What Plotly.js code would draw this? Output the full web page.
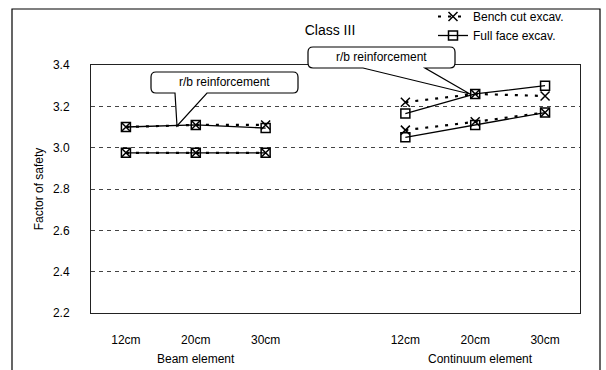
<!DOCTYPE html>
<html>
<head>
<meta charset="utf-8">
<script src="https://cdn.plot.ly/plotly-3.0.1.min.js"></script>
<style>html,body{margin:0;padding:0;background:#fff;}#chart{width:606px;height:370px;}</style>
</head>
<body>
<div id="chart"></div>
<script>
// ---- data ----
const thickness = ['12cm', '20cm', '30cm'];
const groups = ['Beam element', 'Continuum element'];
const seriesNames = ['Bench cut excav.', 'Full face excav.'];

// Beam element
const benchBeamRB   = [3.10, 3.11, 3.11];
const benchBeamNone = [2.975, 2.975, 2.975];
const fullBeamRB    = [3.10, 3.11, 3.095];
const fullBeamNone  = [2.975, 2.975, 2.975];
// Continuum element
const benchContRB   = [3.22, 3.26, 3.25];
const benchContNone = [3.085, 3.125, 3.17];
const fullContRB    = [3.165, 3.26, 3.30];
const fullContNone  = [3.05, 3.11, 3.17];

const calloutText = 'r/b reinforcement';

// ---- layout helpers ----
const W = 606, H = 370;
const M = {l: 91, r: 26, t: 65, b: 57, autoexpand: false};
const PW = W - M.l - M.r, PH = H - M.t - M.b;
const px = v => (v - M.l) / PW;
const py = v => (H - M.b - v) / PH;

// category positions: group g occupies slots g*4+1 .. g*4+3 (one empty slot between)
const pos = (g, i) => g * (thickness.length + 1) + i + 1;
const gx = g => thickness.map((_, i) => pos(g, i));

const benchStyle = {
  mode: 'lines+markers',
  line: {color: '#000', width: 2.2, dash: '3px,7px'},
  marker: {symbol: 'x-thin', size: 9, color: '#000', line: {color: '#000', width: 1.5}}
};
const fullStyle = {
  mode: 'lines+markers',
  line: {color: '#000', width: 1.3},
  marker: {symbol: 'square-open', size: 9, color: '#000', line: {color: '#000', width: 1.5}}
};

function tr(style, name, g, y, show) {
  return Object.assign({}, style, {
    type: 'scatter', x: gx(g), y: y, name: name,
    legendgroup: name, showlegend: show, hoverinfo: 'x+y'
  });
}

const data = [
  tr(benchStyle, seriesNames[0], 0, benchBeamRB, true),
  tr(benchStyle, seriesNames[0], 0, benchBeamNone, false),
  tr(benchStyle, seriesNames[0], 1, benchContRB, false),
  tr(benchStyle, seriesNames[0], 1, benchContNone, false),
  tr(fullStyle, seriesNames[1], 0, fullBeamRB, true),
  tr(fullStyle, seriesNames[1], 0, fullBeamNone, false),
  tr(fullStyle, seriesNames[1], 1, fullContRB, false),
  tr(fullStyle, seriesNames[1], 1, fullContNone, false)
];

function callout(x0, y0, x1, y1, r, wedge) {
  const P = (a, b) => px(a).toFixed(5) + ',' + py(b).toFixed(5);
  let d = 'M' + P(x0 + r, y0) + ' L' + P(x1 - r, y0) + ' Q' + P(x1, y0) + ' ' + P(x1, y0 + r) +
    ' L' + P(x1, y1 - r) + ' Q' + P(x1, y1) + ' ' + P(x1 - r, y1) +
    ' L' + P(wedge[0], y1) + ' L' + P(wedge[1], wedge[2]) + ' L' + P(wedge[3], y1) +
    ' L' + P(x0 + r, y1) + ' Q' + P(x0, y1) + ' ' + P(x0, y1 - r) +
    ' L' + P(x0, y0 + r) + ' Q' + P(x0, y0) + ' ' + P(x0 + r, y0) + ' Z';
  return {type: 'path', xref: 'paper', yref: 'paper', path: d,
          line: {color: '#000', width: 1.2}, fillcolor: '#fff', layer: 'above'};
}

const font = {family: '"Liberation Sans", Arial, sans-serif', color: '#000'};
const f = s => Object.assign({}, font, {size: s});

const layout = {
  width: W, height: H,
  margin: M,
  paper_bgcolor: '#fff', plot_bgcolor: '#fff',
  font: f(12),
  title: {text: 'Class III', x: px(330), xref: 'paper', xanchor: 'center',
          y: 1 - 30 / H, yref: 'container', yanchor: 'middle', font: f(14)},
  showlegend: true,
  legend: {x: px(433), xanchor: 'left', y: py(2), yanchor: 'top',
           bgcolor: 'rgba(0,0,0,0)', borderwidth: 0, tracegroupgap: 0, font: f(12)},
  xaxis: {
    range: [0.5, 7.5],
    tickmode: 'array',
    tickvals: gx(0).concat(gx(1)),
    ticktext: thickness.concat(thickness),
    showgrid: false, zeroline: false,
    showline: true, linecolor: '#222', linewidth: 1, mirror: true,
    ticks: '', ticklabelstandoff: 16, tickfont: f(12)
  },
  yaxis: {
    range: [2.2, 3.4],
    tick0: 2.2, dtick: 0.2, tickformat: '.1f',
    showgrid: true, gridcolor: '#444', gridwidth: 1, griddash: '4px,4px',
    zeroline: false,
    showline: true, linecolor: '#222', linewidth: 1, mirror: true,
    ticks: '', ticklabelstandoff: 18, tickfont: f(12),
    title: {text: 'Factor of safety', standoff: 6, font: f(12)}
  },
  annotations: [
    {text: groups[0], x: pos(0, 1), xref: 'x', y: py(359), yref: 'paper',
     xanchor: 'center', yanchor: 'middle', showarrow: false, font: f(12)},
    {text: groups[1], x: pos(1, 1) + 0.08, xref: 'x', y: py(359), yref: 'paper',
     xanchor: 'center', yanchor: 'middle', showarrow: false, font: f(12)},
    {text: calloutText, x: px(224.5), xref: 'paper', y: py(82), yref: 'paper',
     xanchor: 'center', yanchor: 'middle', showarrow: false, font: f(12)},
    {text: calloutText, x: px(381.5), xref: 'paper', y: py(57), yref: 'paper',
     xanchor: 'center', yanchor: 'middle', showarrow: false, font: f(12)}
  ],
  shapes: [
    {type: 'path', xref: 'paper', yref: 'paper',
     path: 'M' + px(12) + ',' + py(380) + ' L' + px(12) + ',' + py(9) + ' L' + px(600) + ',' + py(9) + ' L' + px(600) + ',' + py(380),
     line: {color: '#000', width: 1.2}},
    callout(151, 72, 298, 93, 5, [207, 177, 126, 175]),
    callout(308, 47, 455, 68, 5, [425, 470, 94, 363])
  ]
};

Plotly.newPlot('chart', data, layout, {displayModeBar: false, staticPlot: true});
</script>
</body>
</html>
